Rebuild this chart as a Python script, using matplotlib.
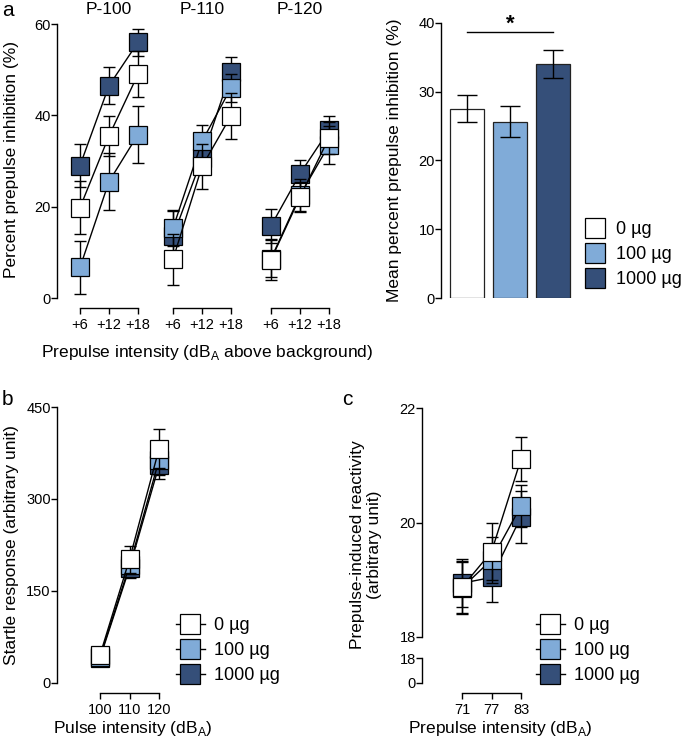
import matplotlib
matplotlib.use("Agg")
import matplotlib.pyplot as plt
from matplotlib.lines import Line2D
import numpy as np

plt.rcParams['font.family'] = ['Liberation Sans', 'DejaVu Sans']

# ---------------- data ----------------
groups = ["0 µg", "100 µg", "1000 µg"]
colors = {"0 µg": "#ffffff", "100 µg": "#80abd8", "1000 µg": "#354f79"}
draw_order = ["1000 µg", "100 µg", "0 µg"]

ppi_levels = ["+6", "+12", "+18"]
pulse_titles = ["P-100", "P-110", "P-120"]

ppi_mean = {
    "P-100": {"0 µg": [19.8, 35.5, 49.0], "100 µg": [6.7, 25.5, 35.8], "1000 µg": [29.0, 46.5, 56.0]},
    "P-110": {"0 µg": [8.5, 28.8, 39.9], "100 µg": [15.3, 34.3, 46.0], "1000 µg": [13.5, 30.6, 49.5]},
    "P-120": {"0 µg": [8.4, 22.1, 35.1], "100 µg": [8.6, 22.5, 33.5], "1000 µg": [15.8, 27.2, 36.8]},
}
ppi_sem = {
    "P-100": {"0 µg": [5.8, 4.4, 5.0], "100 µg": [5.8, 6.2, 6.3], "1000 µg": [4.7, 4.0, 3.0]},
    "P-110": {"0 µg": [5.6, 5.0, 5.0], "100 µg": [4.0, 3.6, 3.0], "1000 µg": [5.5, 2.0, 3.2]},
    "P-120": {"0 µg": [4.5, 3.3, 3.5], "100 µg": [4.0, 3.5, 4.1], "1000 µg": [3.7, 3.0, 3.0]},
}

bar_mean = [27.5, 25.6, 34.0]
bar_sem = [1.95, 2.25, 2.0]

pulse_db = [100, 110, 120]
startle_mean = {"0 µg": [46, 202, 382], "100 µg": [43, 192, 364], "1000 µg": [41, 188, 355]}
startle_sem = {"0 µg": [8, 22, 32], "100 µg": [8, 15, 25], "1000 µg": [8, 17, 22]}

prepulse_db = [71, 77, 83]
react_mean = {"0 µg": [18.87, 19.49, 21.11], "100 µg": [18.86, 19.35, 20.29], "1000 µg": [18.94, 19.04, 20.10]}
react_sem = {"0 µg": [0.45, 0.50, 0.38], "100 µg": [0.45, 0.40, 0.37], "1000 µg": [0.42, 0.42, 0.45]}

# ---------------- layout helpers ----------------
W, H = 685, 747
fig = plt.figure(figsize=(W / 100, H / 100), dpi=100)


def add_ax(left, top, right, bottom):
    return fig.add_axes([left / W, 1 - bottom / H, (right - left) / W, (bottom - top) / H])


MS = 13
LW = 1.0
TICKFS = 10.5
LABFS = 12.5


def style(ax, left=True, bottom=True):
    for s in ["top", "right"]:
        ax.spines[s].set_visible(False)
    ax.spines["left"].set_visible(left)
    ax.spines["bottom"].set_visible(bottom)
    ax.spines["left"].set_linewidth(1)
    ax.spines["bottom"].set_linewidth(1)
    ax.tick_params(axis="both", length=4, width=1, labelsize=TICKFS)
    ax.tick_params(axis="y", pad=0.5)
    ax.tick_params(axis="x", pad=3)
    if not left:
        ax.tick_params(axis="y", left=False, labelleft=False)
    if not bottom:
        ax.tick_params(axis="x", bottom=False, labelbottom=False)
    ax.patch.set_alpha(0)


def plot_series(ax, x, means, sems):
    for i, g in enumerate(draw_order):
        z = 3 + i * 2
        ax.errorbar(x, means[g], yerr=sems[g], fmt="none", ecolor="black",
                    elinewidth=1, capsize=4.5, capthick=1, zorder=z, clip_on=False)
        ax.plot(x, means[g], color="black", lw=LW, marker="s", ms=MS,
                mfc=colors[g], mec="black", mew=0.9, zorder=z + 1, clip_on=False)


# ---------------- panel a (line groups) ----------------
a_px = [80, 173, 271]
unit = 29
xpos = np.arange(len(ppi_levels))
for k, title in enumerate(pulse_titles):
    left = a_px[k] - 0.8 * unit
    right = a_px[k] + 2.7 * unit
    ax = add_ax(left, 24, right, 298)
    ax.set_xlim(-0.8, 2.7)
    ax.set_ylim(0, 60)
    style(ax, left=(k == 0), bottom=True)
    ax.spines["bottom"].set_position(("outward", 7.5))
    ax.spines["bottom"].set_bounds(0, 2)
    ax.set_xticks(xpos)
    ax.set_xticklabels(ppi_levels)
    if k == 0:
        ax.set_yticks([0, 20, 40, 60])
        ax.spines["left"].set_bounds(0, 60)
    plot_series(ax, xpos, ppi_mean[title], ppi_sem[title])
    ax.text(1, 61.5, title, ha="center", va="bottom", fontsize=12.5, transform=ax.transData)

fig.text(12 / W, 1 - 160 / H, "Percent prepulse inhibition (%)", rotation=90,
         ha="center", va="center", fontsize=LABFS)
fig.text(207 / W, 1 - 353 / H, "Prepulse intensity (dB$_\\mathregular{A}$ above background)",
         ha="center", va="center", fontsize=LABFS)

# ---------------- panel a (bars) ----------------
axb = add_ax(441, 22.7, 441 + 3.2 * 43, 298)
bx = np.arange(len(groups))
axb.bar(bx, bar_mean, width=0.8, color=[colors[g] for g in groups],
        edgecolor="#222222", linewidth=0.9, zorder=2)
axb.errorbar(bx, bar_mean, yerr=bar_sem, fmt="none", ecolor="black",
             elinewidth=1, capsize=7, capthick=1, zorder=3)
axb.set_xlim(-0.6, 2.6)
axb.set_ylim(0, 40)
style(axb, left=True, bottom=False)
axb.set_yticks([0, 10, 20, 30, 40])
axb.spines["left"].set_bounds(0, 40)
axb.plot([0, 2], [38.6, 38.6], color="black", lw=1, clip_on=False)
axb.text(1, 38.3, "*", ha="center", va="bottom", fontsize=16, fontweight="bold")
fig.text(394 / W, 1 - 160 / H, "Mean percent prepulse inhibition (%)", rotation=90,
         ha="center", va="center", fontsize=LABFS)

handles_a = [Line2D([], [], ls="none", marker="s", ms=MS + 1, mfc=colors[g], mec="black", mew=0.9)
             for g in groups]
fig.legend(handles_a, groups, loc="upper left", bbox_to_anchor=(584 / W, 1 - 221 / H),
           frameon=False, fontsize=13, handlelength=1.2, handletextpad=0.6,
           labelspacing=0.45, borderaxespad=0, borderpad=0)

# ---------------- panel b ----------------
axs = add_ax(57, 407, 57 + 44.6 * 2.95, 683)
axs.set_xlim(85.4, 130)
axs.set_ylim(0, 450)
style(axs)
axs.spines["bottom"].set_position(("outward", 7.5))
axs.spines["bottom"].set_bounds(100, 120)
axs.spines["left"].set_bounds(0, 450)
axs.set_xticks(pulse_db)
axs.set_yticks([0, 150, 300, 450])
plot_series(axs, pulse_db, startle_mean, startle_sem)
fig.text(12 / W, 1 - 545 / H, "Startle response (arbitrary unit)", rotation=90,
         ha="center", va="center", fontsize=LABFS)
fig.text(133 / W, 1 - 729 / H, "Pulse intensity (dB$_\\mathregular{A}$)",
         ha="center", va="center", fontsize=LABFS)

handles_bc = [Line2D([], [], color="black", lw=1, marker="s", ms=MS + 1, mfc=colors[g],
                     mec="black", mew=0.9) for g in groups]
axs.legend(handles_bc, groups, loc="upper left", bbox_to_anchor=(176 / W, 1 - 617 / H),
           bbox_transform=fig.transFigure, frameon=False, fontsize=13, handlelength=1.6,
           handletextpad=0.5, labelspacing=0.45, borderaxespad=0, borderpad=0)

# ---------------- panel c ----------------
cl, cr = 422, 422 + 27.14 * 4.917
axc = add_ax(cl, 408, cr, 637)
axc.set_xlim(62.86, 90)
axc.set_ylim(18, 22)
style(axc, left=True, bottom=False)
axc.set_yticks([18, 20, 22])
axc.spines["left"].set_bounds(18, 22)
plot_series(axc, prepulse_db, react_mean, react_sem)

axc2 = add_ax(cl, 658, cr, 683)
axc2.set_xlim(62.86, 90)
axc2.set_ylim(0, 18)
style(axc2)
axc2.set_yticks([0, 18])
axc2.spines["left"].set_bounds(0, 18)
axc2.spines["bottom"].set_position(("outward", 7.5))
axc2.spines["bottom"].set_bounds(71, 83)
axc2.set_xticks(prepulse_db)

fig.text(366 / W, 1 - 545 / H, "Prepulse-induced reactivity\n(arbitrary unit)", rotation=90,
         ha="center", va="center", fontsize=LABFS, linespacing=1.1)
fig.text(500 / W, 1 - 729 / H, "Prepulse intensity (dB$_\\mathregular{A}$)",
         ha="center", va="center", fontsize=LABFS)
axc.legend(handles_bc, groups, loc="upper left", bbox_to_anchor=(536 / W, 1 - 617 / H),
           bbox_transform=fig.transFigure, frameon=False, fontsize=13, handlelength=1.6,
           handletextpad=0.5, labelspacing=0.45, borderaxespad=0, borderpad=0)

# ---------------- panel letters ----------------
fig.text(2 / W, 1 - 1 / H, "a", ha="left", va="top", fontsize=15)
fig.text(2 / W, 1 - 390 / H, "b", ha="left", va="top", fontsize=15)
fig.text(342 / W, 1 - 390 / H, "c", ha="left", va="top", fontsize=15)

fig.savefig("out.png", dpi=100)
